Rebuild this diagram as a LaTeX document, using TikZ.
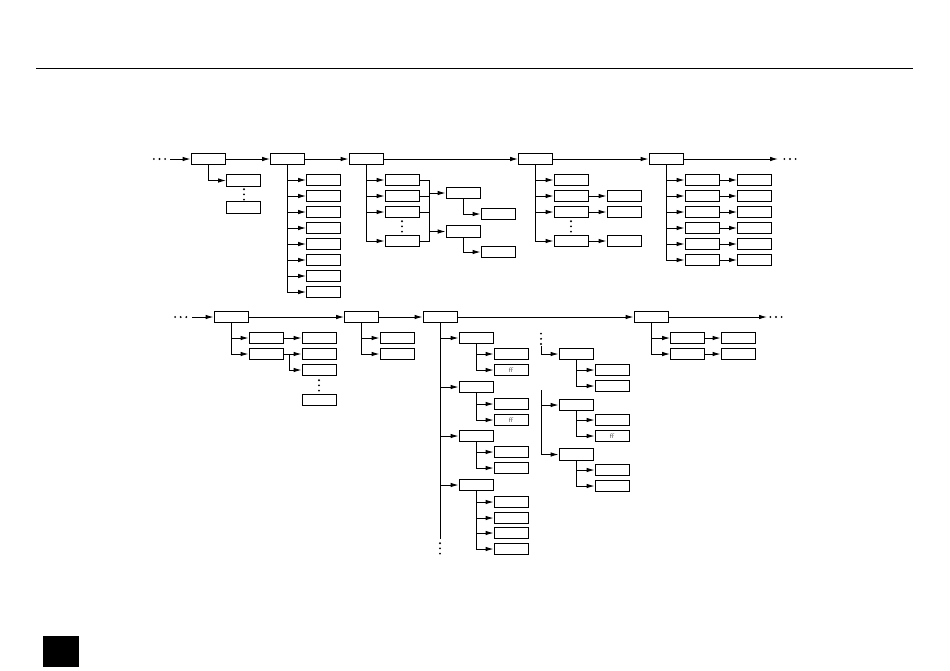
\documentclass[tikz,border=0pt]{standalone}
\usepackage{tikz}
\usetikzlibrary{arrows.meta}
\tikzset{
    MyBox/.style={draw,line width=0.55pt,minimum width=0.68cm,minimum height=0.23cm,inner sep=0pt,
        font=\fontsize{3.8}{4}\selectfont\sffamily,text=black!70},
    MyArrow/.style={line width=0.55pt,-{Latex[length=4.5pt,width=2.6pt]}},
    MyLine/.style={line width=0.55pt}
}
\newcommand{\MyVDots}[2]{\foreach \d in {-5.2,0,5.2} \fill ({#1},{#2+(\d)}) circle (0.6pt);}
\newcommand{\MyHDots}[2]{\foreach \d in {-5.6,0,5.6} \fill ({#1+(\d)},{#2}) circle (0.6pt);}

\begin{document}
\begin{tikzpicture}[x=0.02cm,y=-0.02cm]
            \useasboundingbox (0,0) rectangle (950,670);
            \draw[MyLine] (36,68) -- (913,68);
            \fill (43,636) rectangle (79,667);

            % first row
            \begin{scope}
                \node[MyBox] (A) at (208,159) {};
                \node[MyBox] (B) at (287.5,159) {};
                \node[MyBox] (C) at (366,159) {};
                \node[MyBox] (D) at (535.5,159) {};
                \node[MyBox] (E) at (666,159) {};
                \MyHDots{159.5}{159}
                \MyHDots{790}{159}
                \coordinate (in1) at (170,159);
                \coordinate (out1) at (778,159);
                \draw[MyArrow] (in1) -- (A);
                \draw[MyArrow] (A) -- (B);
                \draw[MyArrow] (B) -- (C);
                \draw[MyArrow] (C) -- (D);
                \draw[MyArrow] (D) -- (E);
                \draw[MyArrow] (E) -- (out1);

                \node[MyBox] (a1) at (243.5,180.5) {};
                \node[MyBox] (a2) at (243.5,207.5) {};
                \MyVDots{244}{194.4}
                \draw[MyArrow] (A.south) |- (a1.west);

                \foreach \y [count=\i] in {180,196,212,228,244,260,276,292} {
                    \node[MyBox] (b\i) at (323.5,\y) {};
                    \draw[MyArrow] (B.south) |- (b\i.west);
                }

                \foreach \y [count=\i] in {180,196,212,241} {
                    \node[MyBox] (c\i) at (402,\y) {};
                    \draw[MyArrow] (C.south) |- (c\i.west);
                }
                \MyVDots{402}{226.4}
                \coordinate (ctop) at (429,180);
                \coordinate (cbot) at (429,241);
                \draw[MyLine] (c1.east) -- (ctop) -- (cbot) -- (c4.east);
                \draw[MyLine] (c2.east) -- (c2.east -| ctop);
                \draw[MyLine] (c3.east) -- (c3.east -| ctop);
                \node[MyBox] (p1) at (463,193) {};
                \node[MyBox] (p2) at (463,231.5) {};
                \draw[MyArrow] (p1.west -| ctop) -- (p1);
                \draw[MyArrow] (p2.west -| ctop) -- (p2);
                \node[MyBox] (q1) at (498,214) {};
                \node[MyBox] (q2) at (498,252) {};
                \draw[MyArrow] (p1.south) |- (q1.west);
                \draw[MyArrow] (p2.south) |- (q2.west);

                \foreach \y [count=\i] in {180,196,212,241} {
                    \node[MyBox] (d\i) at (571,\y) {};
                    \draw[MyArrow] (D.south) |- (d\i.west);
                }
                \MyVDots{571}{226.4}
                \foreach \i in {2,3,4} {
                    \node[MyBox] (dd\i) at (624,0 |- d\i) {};
                    \draw[MyArrow] (d\i) -- (dd\i);
                }

                \foreach \y [count=\i] in {180,196,212,228,244,260} {
                    \node[MyBox] (e\i) at (702,\y) {};
                    \node[MyBox] (ee\i) at (754.5,\y) {};
                    \draw[MyArrow] (E.south) |- (e\i.west);
                    \draw[MyArrow] (e\i) -- (ee\i);
                }
            \end{scope}

            % second row
            \begin{scope}
                \node[MyBox] (F) at (231,317) {};
                \node[MyBox] (G) at (361.5,317) {};
                \node[MyBox] (H) at (440,317) {};
                \node[MyBox] (I) at (651,317) {};
                \MyHDots{180.7}{317}
                \MyHDots{776}{317}
                \coordinate (in2) at (192,317);
                \coordinate (out2) at (767,317);
                \draw[MyArrow] (in2) -- (F);
                \draw[MyArrow] (F) -- (G);
                \draw[MyArrow] (G) -- (H);
                \draw[MyArrow] (H) -- (I);
                \draw[MyArrow] (I) -- (out2);

                \node[MyBox] (f1) at (266,338) {};
                \node[MyBox] (f2) at (266,354) {};
                \draw[MyArrow] (F.south) |- (f1.west);
                \draw[MyArrow] (F.south) |- (f2.west);
                \node[MyBox] (ff1) at (319,338) {};
                \node[MyBox] (ff2) at (319,354) {};
                \node[MyBox] (ff3) at (319,370) {};
                \node[MyBox] (ff4) at (319,400) {};
                \MyVDots{319}{385.4}
                \draw[MyArrow] (f1) -- (ff1);
                \draw[MyArrow] (f2) -- (ff2);
                \coordinate (fj) at (289,354);
                \draw[MyArrow] (fj) |- (ff3.west);

                \node[MyBox] (g1) at (397,338) {};
                \node[MyBox] (g2) at (397,354) {};
                \draw[MyArrow] (G.south) |- (g1.west);
                \draw[MyArrow] (G.south) |- (g2.west);

                \node[MyBox] (h1) at (476,338) {};
                \node[MyBox] (h2) at (476,387) {};
                \node[MyBox] (h3) at (476,436) {};
                \node[MyBox] (h4) at (476,485) {};
                \coordinate (hend) at (440,539);
                \draw[MyLine] (H.south) -- (hend);
                \MyVDots{440}{548.4}
                \foreach \i in {1,2,3,4}
                    \draw[MyArrow] (H.south |- h\i.west) -- (h\i);
                \node[MyBox] (h11) at (511,354) {};
                \node[MyBox] (h12) at (511,370) {f{}f};
                \node[MyBox] (h21) at (511,404) {};
                \node[MyBox] (h22) at (511,420) {f{}f};
                \node[MyBox] (h31) at (511,452) {};
                \node[MyBox] (h32) at (511,468) {};
                \node[MyBox] (h41) at (511,502) {};
                \node[MyBox] (h42) at (511,518) {};
                \node[MyBox] (h43) at (511,533) {};
                \node[MyBox] (h44) at (511,549) {};
                \foreach \k in {h11,h12} \draw[MyArrow] (h1.south) |- (\k.west);
                \foreach \k in {h21,h22} \draw[MyArrow] (h2.south) |- (\k.west);
                \foreach \k in {h31,h32} \draw[MyArrow] (h3.south) |- (\k.west);
                \foreach \k in {h41,h42,h43,h44} \draw[MyArrow] (h4.south) |- (\k.west);

                \MyVDots{541}{338.8}
                \node[MyBox] (J) at (576,354) {};
                \node[MyBox] (K) at (576,405) {};
                \node[MyBox] (L) at (576,454.5) {};
                \coordinate (jt) at (541,346);
                \coordinate (kt) at (541,390);
                \draw[MyArrow] (jt) |- (J.west);
                \draw[MyArrow] (kt) |- (L.west);
                \draw[MyArrow] (K.west -| kt) -- (K);
                \node[MyBox] (j1) at (612,370) {};
                \node[MyBox] (j2) at (612,386) {};
                \node[MyBox] (k1) at (612,420) {};
                \node[MyBox] (k2) at (612,436) {f{}f};
                \node[MyBox] (l1) at (612,470) {};
                \node[MyBox] (l2) at (612,486) {};
                \foreach \k in {j1,j2} \draw[MyArrow] (J.south) |- (\k.west);
                \foreach \k in {k1,k2} \draw[MyArrow] (K.south) |- (\k.west);
                \foreach \k in {l1,l2} \draw[MyArrow] (L.south) |- (\k.west);

                \foreach \y [count=\i] in {338,354} {
                    \node[MyBox] (i\i) at (687.5,\y) {};
                    \node[MyBox] (ii\i) at (738,\y) {};
                    \draw[MyArrow] (I.south) |- (i\i.west);
                    \draw[MyArrow] (i\i) -- (ii\i);
                }
            \end{scope}
        \end{tikzpicture}
\end{document}
